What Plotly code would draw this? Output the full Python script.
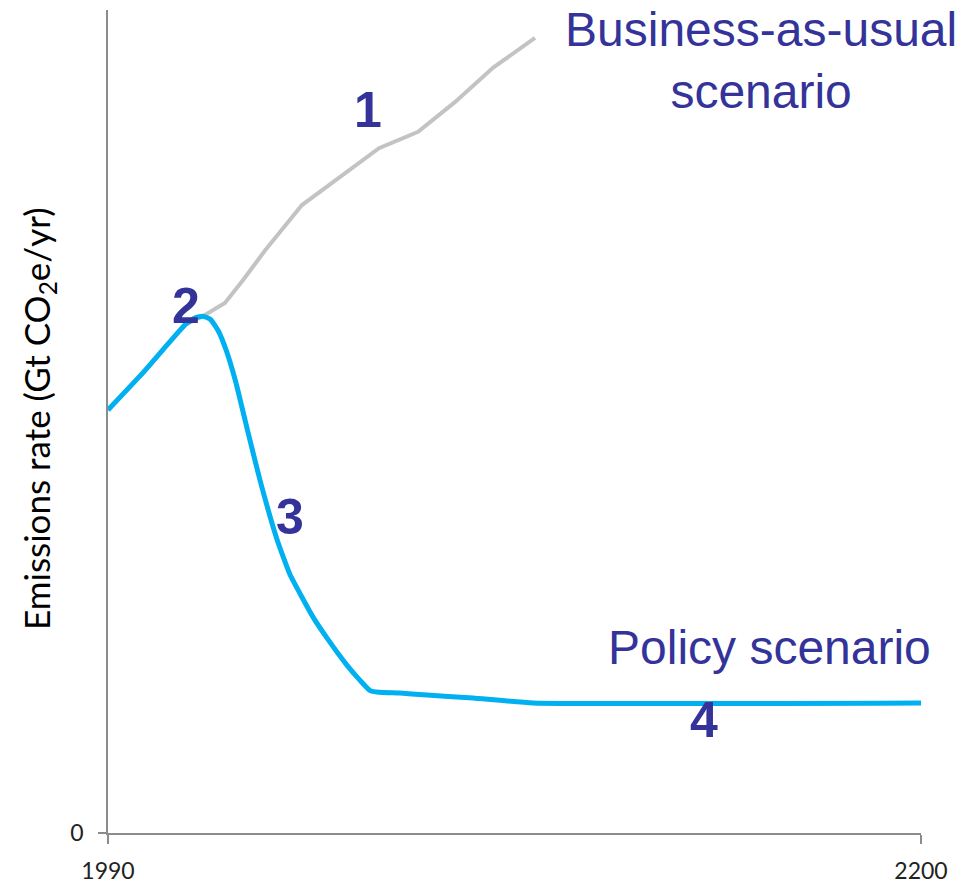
import plotly.graph_objects as go

# Policy scenario emissions path (year, Gt CO2e/yr, arbitrary scale)
policy_years = [1990, 1999, 2006, 2010, 2012.5, 2014.5, 2016.5, 2018.5, 2020.5, 2023,
                2026, 2029.3, 2033.7, 2037, 2043, 2047, 2051.7, 2055, 2057.7, 2060,
                2065.4, 2071.4, 2084.3, 2099.8, 2200]
policy_vals = [51.4, 55.9, 59.7, 61.8, 62.6, 62.8, 62.4, 61.0, 58.7, 54.8,
               49.0, 42.8, 35.6, 31.4, 26.2, 23.4, 20.4, 18.6, 17.3, 17.1,
               17.0, 16.8, 16.4, 15.8, 15.8]

# Business-as-usual path, shares the policy path up to the peak
bau_years = [1990, 1999, 2006, 2010, 2014.5, 2020.2, 2024.9, 2030.6, 2040.1, 2049.9,
             2060.0, 2070.1, 2079.6, 2089.5, 2100.3]
bau_vals = [51.4, 55.9, 59.7, 61.8, 62.8, 64.4, 67.2, 70.8, 76.3, 79.7,
            83.2, 85.2, 88.8, 93.0, 96.6]

x_ticks = [1990, 2200]
x_ticktext = ["1990", "2200"]
y_ticks = [0]
y_ticktext = ["0"]

label_color = "#333399"
axis_color = "#8c8c8c"

fig = go.Figure()
fig.add_trace(go.Scatter(x=bau_years, y=bau_vals, mode="lines",
                         line=dict(color="#c3c3c3", width=4), hoverinfo="skip"))
fig.add_trace(go.Scatter(x=policy_years, y=policy_vals, mode="lines",
                         line=dict(color="#00b0f0", width=5, shape="spline", smoothing=0.4),
                         hoverinfo="skip"))

big = dict(family="Liberation Sans, Arial, sans-serif", size=48, color=label_color)
num = dict(family="Liberation Sans, Arial, sans-serif", size=50, color=label_color)

# Numbered stage markers and scenario names
labels = [
    (2057.2, 87.8, "<b>1</b>", num),
    (2010.1, 64.0, "<b>2</b>", num),
    (2037.0, 38.4, "<b>3</b>", num),
    (2144.0, 13.7, "<b>4</b>", num),
    (2158.7, 93.9, "Business-as-usual<br>scenario", big),
    (2160.8, 22.5, "Policy scenario", big),
]
for lx, ly, txt, fnt in labels:
    fig.add_annotation(x=lx, y=ly, xref="x", yref="y", text=txt, font=fnt,
                       showarrow=False, xanchor="center", yanchor="middle")

fig.add_annotation(xref="paper", yref="paper", x=-0.0861, y=0.503,
                   text="Emissions rate (Gt CO<sub>2</sub>e/yr)", textangle=-90,
                   showarrow=False, xanchor="center", yanchor="middle",
                   font=dict(family="Lato, sans-serif", size=35, color="#000000"))

fig.update_layout(
    width=969, height=885,
    margin=dict(l=108, r=48, t=10, b=52),
    paper_bgcolor="white", plot_bgcolor="white",
    showlegend=False,
    xaxis=dict(range=[1990, 2200], tickvals=x_ticks, ticktext=x_ticktext,
               showgrid=False, zeroline=False, showline=True, linecolor=axis_color,
               linewidth=1.5, ticks="outside", ticklen=9, tickcolor=axis_color,
               tickwidth=1.5, ticklabelstandoff=8, automargin=False,
               tickfont=dict(family="Lato, sans-serif", size=23, color="#222222")),
    yaxis=dict(range=[0, 100], tickvals=y_ticks, ticktext=y_ticktext,
               showgrid=False, zeroline=False, showline=True, linecolor=axis_color,
               linewidth=1.5, ticks="outside", ticklen=8, tickcolor=axis_color,
               tickwidth=1.5, ticklabelstandoff=10, automargin=False,
               tickfont=dict(family="Lato, sans-serif", size=23, color="#222222")),
)

fig.write_html("out.html")
